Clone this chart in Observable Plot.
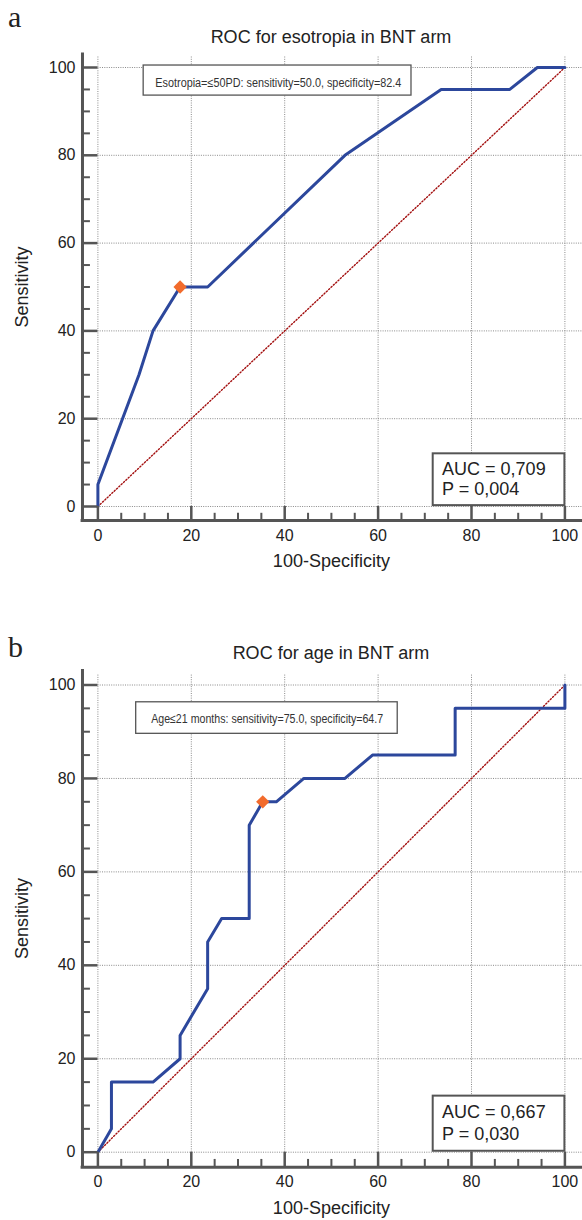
<!DOCTYPE html>
<html><head><meta charset="utf-8">
<script src="https://cdn.jsdelivr.net/npm/d3@7"></script>
<script src="https://cdn.jsdelivr.net/npm/@observablehq/plot@0.6"></script>
<style>
body{margin:0;background:#fff;}
#wrap{position:relative;width:582px;height:1220px;font-family:"Liberation Sans",Arial,sans-serif;color:#222;}
.panel{position:absolute;left:0;width:582px;height:610px;}
.lbl{position:absolute;left:8px;font-family:"Liberation Serif","Times New Roman",serif;font-size:30px;line-height:30px;}
.ttl{position:absolute;left:80px;width:502px;text-align:center;font-size:18px;line-height:18px;white-space:nowrap;}
</style></head><body>
<div id="wrap">
  <div class="lbl" style="top:2px">a</div>
  <div class="ttl" style="top:27.5px">ROC for esotropia in BNT arm</div>
  <div class="panel" id="pa" style="top:0px"></div>
  <div class="lbl" style="top:632px">b</div>
  <div class="ttl" style="top:644px">ROC for age in BNT arm</div>
  <div class="panel" id="pb" style="top:610px"></div>
</div>
<script>
// ---- data ----
const xTicks = [0, 20, 40, 60, 80, 100];
const yTicks = [0, 20, 40, 60, 80, 100];
const minorTicks = [5, 10, 15, 25, 30, 35, 45, 50, 55, 65, 70, 75, 85, 90, 95];

// Panel a: ROC for esotropia
const esoFpr = [0, 0, 8.8, 11.8, 17.6, 23.5, 52.9, 73.5, 88.2, 94.1, 100];
const esoTpr = [0, 5, 30, 40, 50, 50, 80, 95, 95, 100, 100];
const esoCutFpr = [17.6];
const esoCutTpr = [50];
const esoCriterion = "Esotropia=\u226450PD: sensitivity=50.0, specificity=82.4";
const esoAuc = "AUC = 0,709";
const esoP = "P = 0,004";

// Panel b: ROC for age
const ageFpr = [0, 2.9, 2.9, 11.8, 17.6, 17.6, 23.5, 23.5, 26.5, 32.4, 32.4, 35.3, 38.2, 44.1, 52.9, 58.8, 76.5, 76.5, 100, 100];
const ageTpr = [0, 5, 15, 15, 20, 25, 35, 45, 50, 50, 70, 75, 75, 80, 80, 85, 85, 95, 95, 100];
const ageCutFpr = [35.3];
const ageCutTpr = [75];
const ageCriterion = "Age\u226421 months: sensitivity=75.0, specificity=64.7";
const ageAuc = "AUC = 0,667";
const ageP = "P = 0,030";

// ---- drawing ----
const AX = "#555";
function panel(el, cfg) {
  const XL = -3.3, XR = 103.8, YB = -3.2, YT = 103.3, GT = 102.4;
  const pts = cfg.fpr.map((x, i) => ({x, y: cfg.tpr[i]}));
  const cut = cfg.cutFpr.map((x, i) => ({x, y: cfg.cutTpr[i]}));
  const svg = Plot.plot({
    width: 582, height: 610,
    marginLeft: 0, marginRight: 0, marginTop: 0, marginBottom: 0,
    x: {type: "linear", domain: [0, 100], range: [97.4, 564.4], axis: null},
    y: {type: "linear", domain: [0, 100], range: cfg.yRange, axis: null},
    style: {fontFamily: "'Liberation Sans', Arial, sans-serif", fontSize: "16px", color: "#222", background: "transparent", overflow: "visible"},
    marks: [
      // grid
      Plot.ruleX(xTicks, {x: d => d, y1: 0, y2: GT, stroke: "#8a8a8a", strokeWidth: 1, strokeDasharray: "1,1.3"}),
      Plot.ruleY(yTicks, {y: d => d, x1: 0, x2: XR, stroke: "#8a8a8a", strokeWidth: 1, strokeDasharray: "1,1.3"}),
      // chance diagonal
      Plot.line([0, 100], {x: d => d, y: d => d, stroke: "#a30f0f", strokeWidth: 1.4, strokeDasharray: "1.2,2"}),
      // ROC curve
      Plot.line(pts, {x: "x", y: "y", stroke: "#2c479c", strokeWidth: 3, strokeLinejoin: "round"}),
      Plot.dot(cut, {x: "x", y: "y", symbol: "diamond2", r: 6, fill: "#f26b2c", stroke: "none"}),
      // axes
      Plot.ruleX([XL], {y1: YB, y2: YT, stroke: AX, strokeWidth: 3}),
      Plot.ruleY([YB], {x1: XL - 0.3, x2: XR, stroke: AX, strokeWidth: 3}),
      Plot.ruleX(xTicks, {x: d => d, y1: YB, y2: 0, stroke: AX, strokeWidth: 2.5}),
      Plot.ruleX(minorTicks, {x: d => d, y1: YB, y2: YB + 1.65, stroke: AX, strokeWidth: 2}),
      Plot.ruleY(yTicks, {y: d => d, x1: XL, x2: 0, stroke: AX, strokeWidth: 2.5}),
      Plot.ruleY(minorTicks, {y: d => d, x1: XL, x2: XL + 1.7, stroke: AX, strokeWidth: 2}),
      Plot.text(xTicks, {x: d => d, y: YB, dy: 15, text: d => String(d), fontSize: 16, fill: "#222"}),
      Plot.text(yTicks, {x: XL, y: d => d, dx: -7, text: d => String(d), textAnchor: "end", fontSize: 16, fill: "#222"}),
      Plot.text(["100-Specificity"], {x: 50, y: YB, dy: 41, text: d => d, fontSize: 18, fill: "#222"}),
      Plot.text(["Sensitivity"], {x: XL, y: 50, dx: -60, text: d => d, rotate: -90, fontSize: 18, fill: "#222"}),
      // criterion box
      Plot.rect([cfg.box], {x1: "x1", x2: "x2", y1: "y1", y2: "y2", fill: "white", stroke: "#555", strokeWidth: 1.3}),
      Plot.text([cfg.box], {x: "tx", y: "ty", text: "label", textAnchor: "start", fontSize: 12.5, fill: "#333"}),
      // AUC box
      Plot.rect([{}], {x1: 71.8, x2: 100, y1: 0.2, y2: 12, fill: "white", stroke: "#555", strokeWidth: 2}),
      Plot.text([cfg.auc, cfg.p], {x: 73.7, y: (d, i) => i === 0 ? 8.55 : 3.85, text: d => d, textAnchor: "start", fontSize: 18, fill: "#222"})
    ]
  });
  d3.select(svg).selectAll("text").filter(function() { return this.textContent === cfg.box.label; })
    .attr("textLength", cfg.box.tw).attr("lengthAdjust", "spacingAndGlyphs");
  el.appendChild(svg);
}

panel(document.getElementById("pa"), {
  fpr: esoFpr, tpr: esoTpr, cutFpr: esoCutFpr, cutTpr: esoCutTpr,
  yRange: [506, 67],
  box: {x1: 9.8, x2: 67.15, y1: 93.6, y2: 100.45, tx: 12.3, ty: 96.5, label: esoCriterion, tw: 246},
  auc: esoAuc, p: esoP
});
panel(document.getElementById("pb"), {
  fpr: ageFpr, tpr: ageTpr, cutFpr: ageCutFpr, cutTpr: ageCutTpr,
  yRange: [541.7, 74.5],
  box: {x1: 8.2, x2: 64.2, y1: 89.55, y2: 96.3, tx: 11.4, ty: 92.7, label: ageCriterion, tw: 232},
  auc: ageAuc, p: ageP
});
</script>
</body></html>
